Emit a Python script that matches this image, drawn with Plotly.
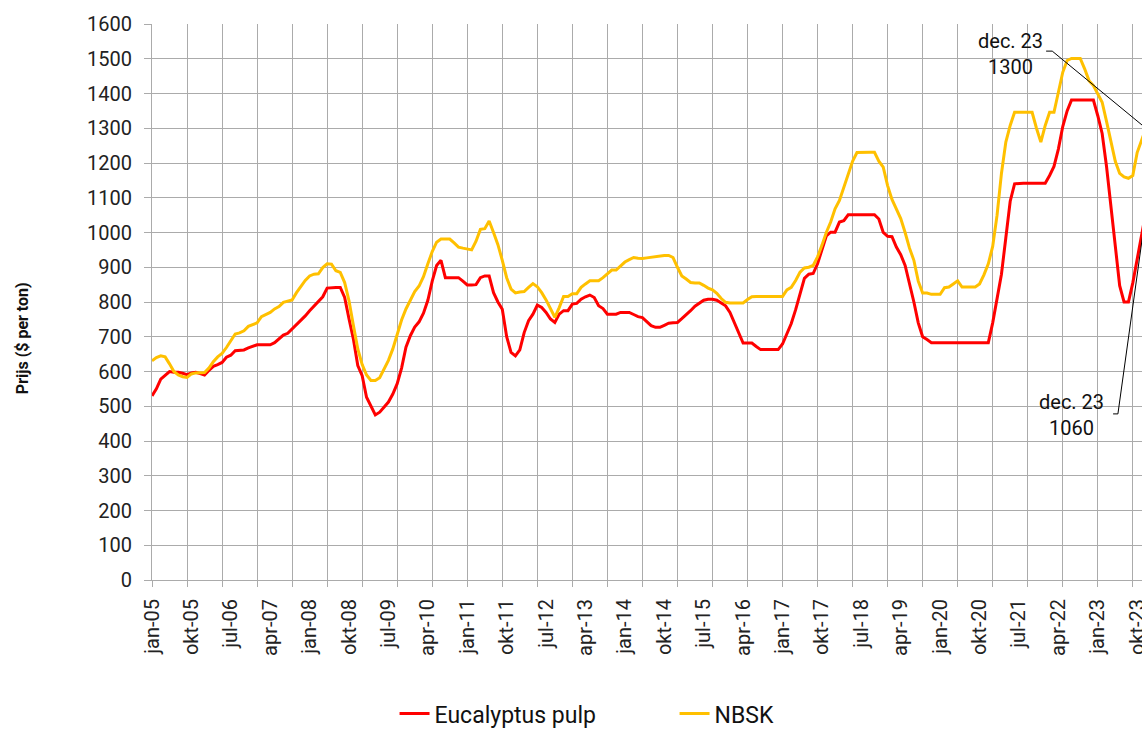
import plotly.graph_objects as go

# Monthly prices, jan-05 .. dec-23 ($ per ton)
month_names = ['jan', 'feb', 'mrt', 'apr', 'mei', 'jun', 'jul', 'aug', 'sep', 'okt', 'nov', 'dec']
years = list(range(2005, 2024))

eucalyptus = [
    530, 550, 578, 590, 600, 598, 598, 595, 591, 596, 598, 594,   # 2005
    590, 603, 615, 620, 626, 641, 647, 660, 660, 662, 668, 673,   # 2006
    677, 677, 677, 677, 683, 695, 705, 710, 722, 734, 746, 760,   # 2007
    775, 788, 799, 815, 840, 842, 842, 842, 813, 751, 693, 617,   # 2008
    588, 526, 502, 475, 483, 497, 512, 535, 565, 610, 670, 703,   # 2009
    728, 743, 768, 805, 860, 905, 920, 870, 870, 870, 870, 860,   # 2010
    849, 849, 850, 870, 875, 875, 827, 800, 779, 700, 655, 645,   # 2011
    662, 712, 746, 765, 791, 784, 770, 751, 741, 765, 775, 775,   # 2012
    794, 796, 808, 815, 820, 813, 789, 781, 765, 765, 765, 770,   # 2013
    770, 770, 764, 758, 755, 743, 732, 727, 727, 733, 739, 740,   # 2014
    741, 752, 763, 775, 788, 797, 805, 808, 808, 805, 797, 789,   # 2015
    770, 740, 710, 682, 682, 682, 672, 663, 663, 663, 663, 663,   # 2016
    679, 708, 738, 778, 825, 868, 880, 882, 910, 948, 990, 1001,  # 2017
    1001, 1030, 1034, 1051, 1051, 1051, 1051, 1051, 1051, 1051, 1039, 1000,  # 2018
    989, 988, 958, 936, 905, 855, 800, 740, 700, 692, 683, 683,   # 2019
    683, 683, 683, 683, 683, 683, 683, 683, 683, 683, 683, 683,   # 2020
    740, 805, 880, 985, 1090, 1140, 1142, 1142, 1142, 1142, 1142, 1142,  # 2021
    1142, 1164, 1190, 1240, 1305, 1350, 1381, 1381, 1381, 1381, 1381, 1381,  # 2022
    1336, 1285, 1190, 1075, 943, 847, 800, 800, 855, 925, 985, 1060,  # 2023
]

nbsk = [
    631, 640, 645, 642, 622, 600, 590, 585, 583, 593, 596, 597,   # 2005
    597, 610, 628, 642, 652, 669, 690, 708, 711, 717, 730, 734,   # 2006
    740, 758, 764, 770, 780, 787, 799, 802, 806, 827, 846, 862,   # 2007
    875, 880, 881, 899, 910, 909, 890, 885, 856, 803, 732, 665,   # 2008
    620, 590, 574, 574, 582, 605, 632, 665, 710, 748, 780, 803,   # 2009
    830, 846, 873, 910, 945, 972, 981, 981, 981, 970, 958, 955,   # 2010
    953, 950, 975, 1009, 1011, 1033, 1000, 965, 920, 870, 837, 826,  # 2011
    829, 830, 842, 853, 844, 827, 806, 779, 756, 784, 816, 816,   # 2012
    824, 824, 842, 852, 861, 861, 861, 870, 880, 892, 892, 903,   # 2013
    915, 922, 928, 926, 925, 927, 929, 931, 933, 934, 934, 928,   # 2014
    900, 875, 866, 856, 855, 855, 848, 840, 835, 825, 810, 799,   # 2015
    797, 797, 797, 797, 807, 815, 816, 816, 816, 816, 816, 816,   # 2016
    816, 835, 842, 862, 886, 898, 900, 905, 930, 963, 1000, 1030,  # 2017
    1068, 1092, 1130, 1173, 1205, 1230, 1231, 1231, 1231, 1231, 1205, 1188,  # 2018
    1135, 1095, 1068, 1040, 1000, 955, 920, 860, 826, 826, 822, 822,  # 2019
    822, 841, 843, 852, 861, 843, 843, 843, 843, 852, 878, 910,   # 2020
    960, 1050, 1170, 1260, 1308, 1346, 1346, 1346, 1346, 1346, 1300, 1260,  # 2021
    1308, 1346, 1346, 1403, 1461, 1495, 1501, 1501, 1501, 1471, 1437, 1423,  # 2022
    1399, 1375, 1320, 1260, 1205, 1170, 1160, 1156, 1164, 1230, 1265, 1300,  # 2023
]

months = list(range(len(eucalyptus)))
labels = [f'{month_names[m % 12]}-{str(years[m // 12])[2:]}' for m in months]

# tick labels every 9 months, vertical gridlines every 8 months
tick_idx = months[::9]
tick_text = [labels[i] for i in tick_idx]

grid_color = '#ababab'
font = 'Roboto'
x_end = 226.1

fig = go.Figure()

fig.add_trace(go.Scatter(
    x=months, y=eucalyptus, name='Eucalyptus pulp', mode='lines',
    line=dict(color='#FF0000', width=3)
))
fig.add_trace(go.Scatter(
    x=months, y=nbsk, name='NBSK', mode='lines', xaxis='x2',
    line=dict(color='#FFC000', width=3)
))

fig.update_layout(
    width=1142, height=737,
    margin=dict(l=152, r=0, t=24, b=157),
    plot_bgcolor='white', paper_bgcolor='white',
    font=dict(family=font, size=20, color='#222222'),
    showlegend=True,
    legend=dict(
        orientation='h', x=0.245, xanchor='left', y=-0.279, yanchor='bottom',
        entrywidth=235, entrywidthmode='pixels',
        font=dict(size=23, color='#111111')
    ),
    xaxis=dict(
        range=[0, x_end], tickmode='array', tickvals=tick_idx, ticktext=tick_text,
        tickangle=-90, showgrid=False, ticks='', zeroline=False,
        showline=True, linecolor=grid_color, linewidth=1,
        ticklabelstandoff=10, ticklabeloverflow='allow', automargin=False
    ),
    xaxis2=dict(
        range=[0, x_end], overlaying='x', anchor='y', side='bottom',
        tickmode='linear', tick0=0, dtick=8, showticklabels=False,
        showgrid=True, gridcolor=grid_color, gridwidth=1,
        ticks='outside', ticklen=6, tickcolor=grid_color, zeroline=False,
        automargin=False
    ),
    yaxis=dict(
        range=[0, 1600], dtick=100, showgrid=True, gridcolor=grid_color, gridwidth=1,
        ticks='outside', ticklen=7, tickcolor=grid_color, zeroline=False,
        showline=True, linecolor=grid_color, ticklabelstandoff=8, automargin=False
    ),
)

# y-axis title
fig.add_annotation(
    text='<b>Prijs ($ per ton)</b>', textangle=-90, showarrow=False,
    xref='paper', yref='paper', x=0, y=0.435, xshift=-130,
    xanchor='center', yanchor='middle',
    font=dict(family=font, size=16, color='#111111')
)

# end-value callouts
fig.add_annotation(
    text=f'{labels[-1].replace("-", ". ")}<br>{nbsk[-1]}', showarrow=False,
    xref='paper', yref='paper', x=0.8667, y=0.946,
    xanchor='center', yanchor='middle',
    font=dict(family=font, size=20, color='#111111')
)
fig.add_annotation(
    text=f'{labels[-1].replace("-", ". ")}<br>{eucalyptus[-1]}', showarrow=False,
    xref='paper', yref='paper', x=0.929, y=0.297,
    xanchor='center', yanchor='middle',
    font=dict(family=font, size=20, color='#111111')
)
fig.add_shape(
    type='path', xref='x', yref='y',
    path=f'M 204.2,1522 L 205.6,1522 L {months[-1]},{nbsk[-1]}',
    line=dict(color='black', width=1)
)
fig.add_shape(
    type='path', xref='x', yref='y',
    path=f'M 219.5,478 L 220.6,478 L {months[-1]},{eucalyptus[-1]}',
    line=dict(color='black', width=1)
)

fig.write_html('out.html', config={'displayModeBar': False},
               post_script="document.body.style.margin='0';")
